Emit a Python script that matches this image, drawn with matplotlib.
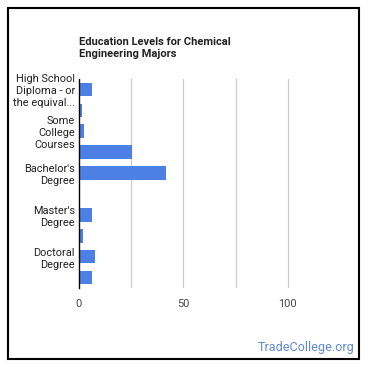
import matplotlib.pyplot as plt
import numpy as np

plt.rcParams['font.family'] = ['Roboto', 'DejaVu Sans']

# Education categories (only every other one gets a visible label, as in the original)
categories = [
    "High School\nDiploma - or\nthe equival...",
    "Post-Secondary\nCertificate",
    "Some\nCollege\nCourses",
    "Associate's\nDegree",
    "Bachelor's\nDegree",
    "Post-\nBaccalaureate",
    "Master's\nDegree",
    "Post-Master's\nCertificate",
    "Doctoral\nDegree",
    "Post-Doctoral\nTraining",
]
shown = [True, False, True, False, True, False, True, False, True, False]
values = [6.2, 1.5, 2.4, 25.4, 41.6, 0.4, 6.4, 1.9, 7.7, 6.4]
xticks = [0, 50, 100]
gridlines = [25, 50, 75, 100]

W = 370
fig = plt.figure(figsize=(3.7, 3.7), dpi=100)

# outer frame
frame = plt.Rectangle((8 / W, 11 / W), 351 / W, 351 / W, transform=fig.transFigure,
                      fill=False, edgecolor='black', linewidth=1.5)
fig.patches.append(frame)

ax = fig.add_axes([79 / W, 1 - 288 / W, 261 / W, 209 / W])
y = np.arange(len(categories))
ax.barh(y, values, height=0.65, color='#4d80e4')
ax.set_ylim(len(categories) - 0.5, -0.5)
ax.set_xlim(0, 125)

ax.set_yticks(y)
ax.set_yticklabels([c if s else '' for c, s in zip(categories, shown)],
                   fontsize=7.9, color='#222222', linespacing=1.25)
ax.set_xticks(xticks)
ax.set_xticklabels([str(t) for t in xticks], fontsize=7.9, color='#444444')
ax.tick_params(length=0, pad=3)
ax.tick_params(axis='x', pad=8)

for g in gridlines:
    ax.axvline(g, color='#cccccc', linewidth=0.9, zorder=0)

for s in ['top', 'right', 'bottom']:
    ax.spines[s].set_visible(False)
ax.spines['left'].set_color('black')
ax.spines['left'].set_linewidth(1)
ax.spines['left'].set_zorder(3)

fig.text(79 / W, 1 - 48 / W, "Education Levels for Chemical\nEngineering Majors",
         fontsize=8.0, fontweight='bold', color='#222222', va='center', ha='left',
         linespacing=1.3)
fig.text(355 / W, 1 - 348 / W, "TradeCollege.org", fontsize=9.1, color='#5f8ad4',
         ha='right', va='center')

fig.savefig('out.png', dpi=100)
